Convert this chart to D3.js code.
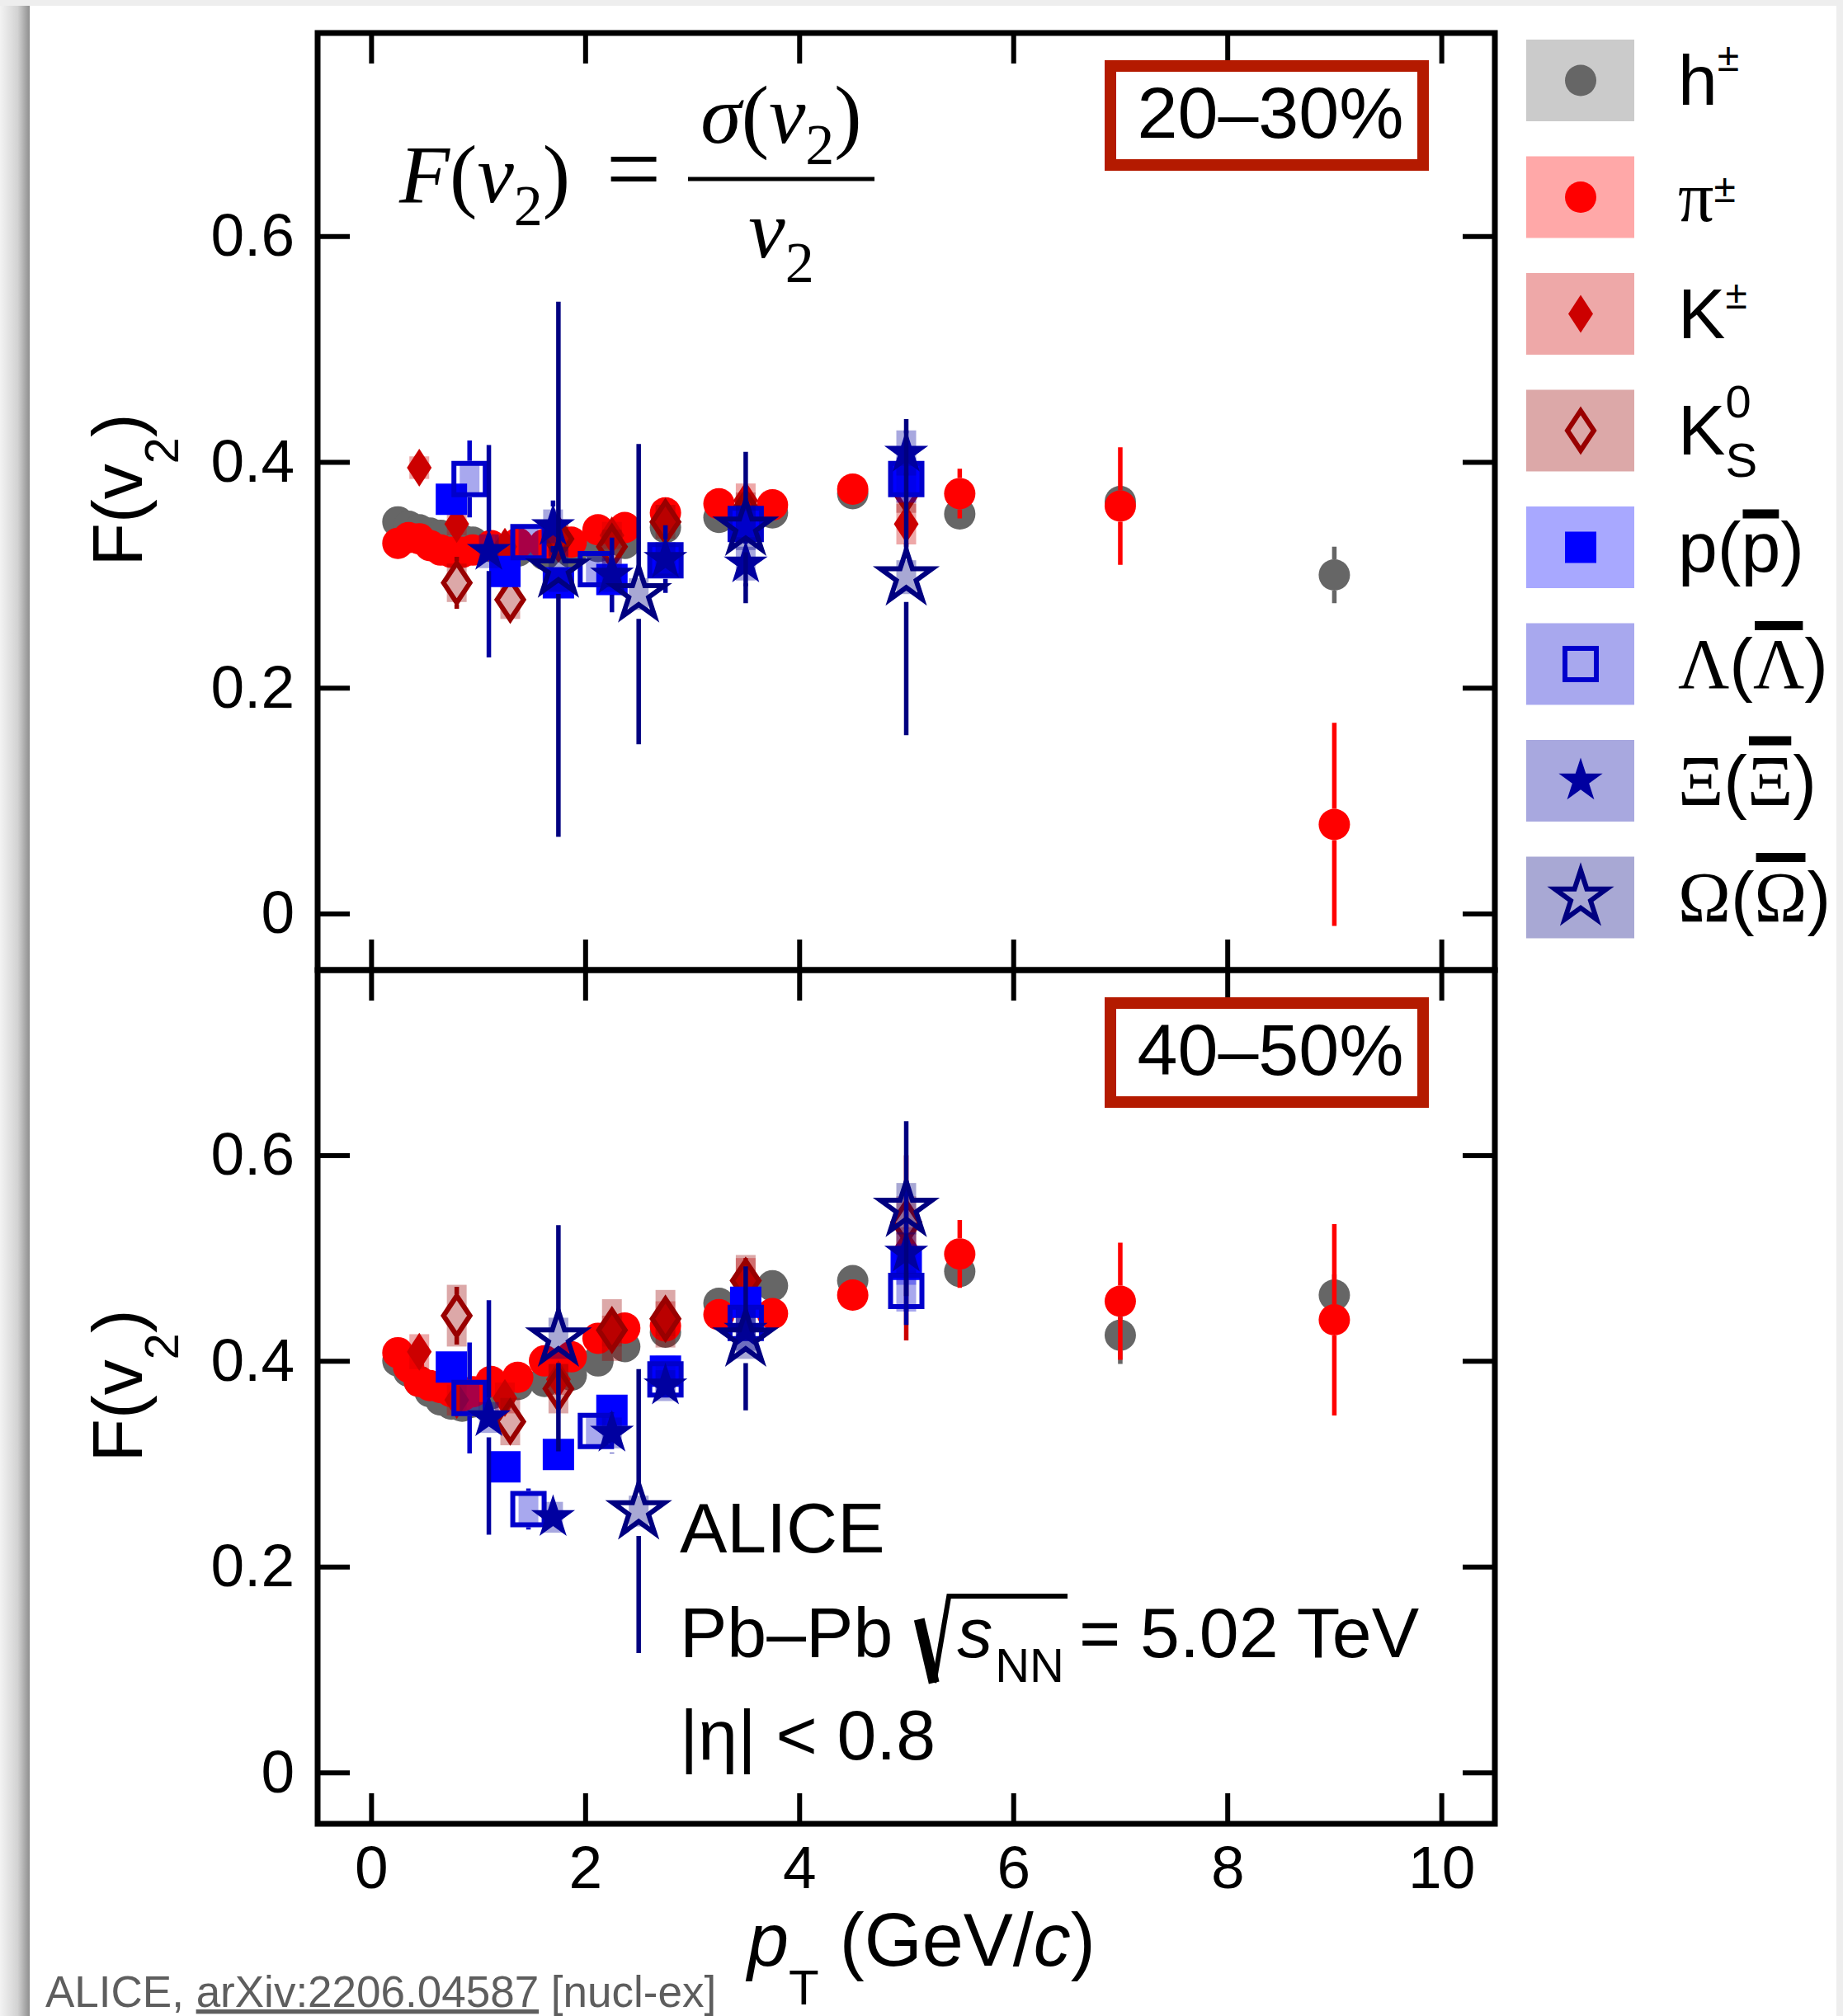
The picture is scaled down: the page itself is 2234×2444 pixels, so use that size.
<!DOCTYPE html>
<html>
<head>
<meta charset="utf-8">
<script src="https://cdn.jsdelivr.net/npm/d3@7"></script>
<style>
  body { margin: 0; background: #eeeeee; }
  svg { display: block; }
</style>
</head>
<body>
<svg id="chart" width="2234" height="2444"></svg>
<script>
var W = 2234, H = 2444;
var SANS = "'Liberation Sans', Arial, Helvetica, sans-serif";
var SERIF = "'Liberation Serif', 'Times New Roman', serif";

// tick values
var xTicks = [0, 2, 4, 6, 8, 10];
var yTicks = [0, 0.2, 0.4, 0.6];
var centralities = ['20–30%', '40–50%'];

// ---- data: F(v2) vs pT ----
// charged hadrons and pions share the same bins
var hPt  = [0.25, 0.35, 0.45, 0.55, 0.65, 0.75, 0.85, 0.95, 1.12, 1.37, 1.62, 1.87, 2.12, 2.37, 2.75, 3.25, 3.75, 4.5, 5.5, 7, 9];
var hTop    = [0.347, 0.343, 0.340, 0.337, 0.335, 0.333, 0.331, 0.329, 0.325, 0.321, 0.318, 0.320, 0.325, 0.328, 0.342, 0.351, 0.355, 0.372, 0.354, 0.365, 0.300];
var hTopErr = [0.003, 0.003, 0.003, 0.003, 0.003, 0.003, 0.003, 0.003, 0.003, 0.003, 0.003, 0.004, 0.004, 0.004, 0.005, 0.005, 0.006, 0.006, 0.008, 0.012, 0.025];
var hTopSys = [0.005, 0.005, 0.005, 0.005, 0.005, 0.005, 0.005, 0.005, 0.005, 0.005, 0.005, 0.005, 0.005, 0.005, 0.006, 0.006, 0.006, 0.007, 0.008, 0.01, 0.01];
var hBot    = [0.400, 0.390, 0.380, 0.370, 0.362, 0.358, 0.356, 0.360, 0.368, 0.377, 0.380, 0.386, 0.400, 0.414, 0.428, 0.456, 0.473, 0.478, 0.487, 0.425, 0.464];
var hBotErr = [0.003, 0.003, 0.003, 0.003, 0.003, 0.003, 0.003, 0.003, 0.003, 0.003, 0.003, 0.004, 0.004, 0.004, 0.005, 0.005, 0.006, 0.006, 0.008, 0.028, 0.02];
var hBotSys = [0.005, 0.005, 0.005, 0.005, 0.005, 0.005, 0.005, 0.005, 0.005, 0.005, 0.005, 0.005, 0.005, 0.005, 0.006, 0.006, 0.006, 0.007, 0.008, 0.01, 0.01];

var piPt = [0.25, 0.35, 0.45, 0.55, 0.65, 0.75, 0.85, 0.95, 1.12, 1.37, 1.62, 1.87, 2.12, 2.37, 2.75, 3.25, 3.75, 4.5, 5.5, 7, 9];
var piTop    = [0.328, 0.333, 0.332, 0.326, 0.322, 0.320, 0.320, 0.322, 0.326, 0.328, 0.327, 0.329, 0.340, 0.342, 0.355, 0.363, 0.362, 0.376, 0.372, 0.361, 0.079];
var piTopErr = [0.003, 0.003, 0.003, 0.003, 0.003, 0.003, 0.003, 0.003, 0.003, 0.003, 0.004, 0.004, 0.004, 0.005, 0.005, 0.006, 0.007, 0.008, 0.022, 0.052, 0.09];
var piTopSys = [0.005, 0.005, 0.005, 0.005, 0.005, 0.005, 0.005, 0.005, 0.005, 0.005, 0.005, 0.005, 0.006, 0.006, 0.006, 0.007, 0.007, 0.008, 0.01, 0.01, 0.01];
var piBot    = [0.408, 0.394, 0.380, 0.376, 0.374, 0.370, 0.366, 0.370, 0.380, 0.384, 0.400, 0.404, 0.422, 0.432, 0.434, 0.445, 0.446, 0.464, 0.504, 0.458, 0.440];
var piBotErr = [0.003, 0.003, 0.003, 0.003, 0.003, 0.003, 0.003, 0.003, 0.003, 0.003, 0.004, 0.004, 0.004, 0.005, 0.005, 0.006, 0.007, 0.008, 0.033, 0.057, 0.093];
var piBotSys = [0.005, 0.005, 0.005, 0.005, 0.005, 0.005, 0.005, 0.005, 0.005, 0.005, 0.005, 0.005, 0.006, 0.006, 0.006, 0.007, 0.007, 0.008, 0.01, 0.01, 0.01];

var kPt = [0.45, 0.8, 1.25, 1.75, 2.25, 2.75, 3.5, 5.0];
var kTop    = [0.395, 0.345, 0.325, 0.333, 0.335, 0.350, 0.366, 0.345];
var kTopErr = [0.005, 0.01, 0.01, 0.01, 0.01, 0.01, 0.015, 0.02];
var kTopSys = [0.010, 0.010, 0.010, 0.012, 0.012, 0.012, 0.015, 0.018];
var kBot    = [0.409, 0.362, 0.364, 0.382, 0.429, 0.441, 0.480, 0.510];
var kBotErr = [0.005, 0.01, 0.01, 0.01, 0.012, 0.012, 0.02, 0.09];
var kBotSys = [0.017, 0.015, 0.015, 0.015, 0.015, 0.017, 0.02, 0.02];

var k0Pt = [0.8, 1.3, 1.75, 2.25, 2.75, 3.5, 5.0];
var k0Top    = [0.293, 0.278, 0.332, 0.325, 0.347, 0.356, 0.375];
var k0TopErr = [0.023, 0.01, 0.01, 0.01, 0.01, 0.015, 0.02];
var k0TopSys = [0.017, 0.017, 0.015, 0.015, 0.015, 0.017, 0.02];
var k0Bot    = [0.444, 0.341, 0.373, 0.430, 0.441, 0.478, 0.535];
var k0BotErr = [0.028, 0.012, 0.01, 0.01, 0.01, 0.015, 0.02];
var k0BotSys = [0.030, 0.023, 0.024, 0.030, 0.028, 0.025, 0.025];

var pPt = [0.75, 1.25, 1.75, 2.25, 2.75, 3.5, 5.0];
var pTop    = [0.367, 0.303, 0.293, 0.296, 0.311, 0.344, 0.384];
var pTopErr = [0.01, 0.01, 0.01, 0.01, 0.01, 0.012, 0.015];
var pTopSys = [0.012, 0.012, 0.012, 0.012, 0.012, 0.015, 0.02];
var pBot    = [0.394, 0.297, 0.309, 0.352, 0.390, 0.457, 0.494];
var pBotErr = [0.01, 0.01, 0.01, 0.01, 0.01, 0.012, 0.015];
var pBotSys = [0.012, 0.012, 0.012, 0.012, 0.015, 0.015, 0.02];

var lamPt = [0.92, 1.47, 2.1, 2.75, 3.5, 5.0];
var lamTop    = [0.385, 0.329, 0.305, 0.313, 0.345, 0.385];
var lamTopErr = [0.034, 0.01, 0.01, 0.01, 0.01, 0.015];
var lamTopSys = [0.015, 0.012, 0.012, 0.012, 0.012, 0.015];
var lamBot    = [0.364, 0.256, 0.332, 0.382, 0.437, 0.468];
var lamBotErr = [0.054, 0.02, 0.01, 0.01, 0.01, 0.02];
var lamBotSys = [0.015, 0.015, 0.015, 0.015, 0.015, 0.02];

var xiPt = [1.1, 1.7, 2.25, 2.75, 3.5, 5.0];
var xiTop    = [0.321, 0.343, 0.300, 0.314, 0.310, 0.408];
var xiTopErr = [0.094, 0.023, 0.033, 0.03, 0.02, 0.02];
var xiTopSys = [0.015, 0.015, 0.015, 0.015, 0.015, 0.02];
var xiBot    = [0.345, 0.248, 0.330, 0.376, 0.430, 0.505];
var xiBotErr = [0.114, 0.015, 0.02, 0.015, 0.02, 0.07];
var xiBotSys = [0.015, 0.015, 0.015, 0.015, 0.02, 0.02];

var omPt = [1.75, 2.5, 3.5, 5.0];
var omTop    = [0.305, 0.283, 0.342, 0.298];
var omTopErr = [0.237, 0.133, 0.067, 0.14];
var omTopSys = [0.02, 0.014, 0.02, 0.015];
var omBot    = [0.422, 0.254, 0.422, 0.548];
var omBotErr = [0.11, 0.138, 0.07, 0.085];
var omBotSys = [0.02, 0.015, 0.02, 0.025];

// legend labels, one list of text pieces per species
var legendLabels = [
  [{t: 'h'}, {t: '±', size: 48, dy: -41}],
  [{t: 'π', serif: true}, {t: '±', size: 48, dy: -23}],
  [{t: 'K'}, {t: '±', size: 48, dy: -36}],
  [{t: 'K'}, {t: '0', size: 56, dy: -45, stack: true}, {t: 'S', size: 58, dy: 27}],
  [{t: 'p'}, {t: '('}, {t: 'p', bar: 64}, {t: ')'}],
  [{t: 'Λ', serif: true}, {t: '('}, {t: 'Λ', serif: true, bar: 70}, {t: ')'}],
  [{t: 'Ξ', serif: true}, {t: '('}, {t: 'Ξ', serif: true, bar: 72}, {t: ')'}],
  [{t: 'Ω', serif: true}, {t: '('}, {t: 'Ω', serif: true, bar: 72}, {t: ')'}]
];

var species = [
  {pt: hPt,  val: [hTop, hBot],   err: [hTopErr, hBotErr],   sys: [hTopSys, hBotSys],   color: '#666666', shape: 'circle',   gap: 19},
  {pt: piPt, val: [piTop, piBot], err: [piTopErr, piBotErr], sys: [piTopSys, piBotSys], color: '#ff0000', shape: 'circle',   gap: 19},
  {pt: kPt,  val: [kTop, kBot],   err: [kTopErr, kBotErr],   sys: [kTopSys, kBotSys],   color: '#cc0000', shape: 'diamond',  gap: 23},
  {pt: k0Pt, val: [k0Top, k0Bot], err: [k0TopErr, k0BotErr], sys: [k0TopSys, k0BotSys], color: '#990000', shape: 'odiamond', gap: 26},
  {pt: pPt,  val: [pTop, pBot],   err: [pTopErr, pBotErr],   sys: [pTopSys, pBotSys],   color: '#0000ff', shape: 'square',   gap: 19},
  {pt: lamPt, val: [lamTop, lamBot], err: [lamTopErr, lamBotErr], sys: [lamTopSys, lamBotSys], color: '#0000cc', shape: 'osquare', gap: 22},
  {pt: xiPt, val: [xiTop, xiBot], err: [xiTopErr, xiBotErr], sys: [xiTopSys, xiBotSys], color: '#0000a0', shape: 'star',     gap: 24},
  {pt: omPt, val: [omTop, omBot], err: [omTopErr, omBotErr], sys: [omTopSys, omBotSys], color: '#000080', shape: 'ostar',    gap: 30}
];

var svg = d3.select('#chart');

// page card with a soft shadow on the left
var defs = svg.append('defs');
var grad = defs.append('linearGradient').attr('id', 'shadowL')
    .attr('x1', 0).attr('x2', 1).attr('y1', 0).attr('y2', 0);
grad.append('stop').attr('offset', '0%').attr('stop-color', '#f3f3f3');
grad.append('stop').attr('offset', '60%').attr('stop-color', '#d2d2d2');
grad.append('stop').attr('offset', '100%').attr('stop-color', '#8e8e8e');
svg.append('rect').attr('width', W).attr('height', H).attr('fill', '#eeeeee');
svg.append('rect').attr('x', 0).attr('y', 7).attr('width', 36).attr('height', H).attr('fill', 'url(#shadowL)');
svg.append('rect').attr('x', 36).attr('y', 7).attr('width', 2190).attr('height', H).attr('fill', '#ffffff');

var x = d3.scaleLinear().domain([-0.5, 10.5]).range([385, 1812]);
var panels = [
  {y: d3.scaleLinear().domain([-0.05, 0.78]).range([1176, 40]), top: 40, bottom: 1176, labels: false},
  {y: d3.scaleLinear().domain([-0.05, 0.78]).range([2211, 1176]), top: 1176, bottom: 2211, labels: true}
];

var KA = 0.8908130915292852; // d3 star: outer radius = sqrt(size * KA)
function shapePath(s) {
  if (s === 'circle') return d3.symbol().type(d3.symbolCircle).size(Math.PI * 19 * 19)();
  if (s === 'square') return d3.symbol().type(d3.symbolSquare).size(38 * 38)();
  if (s === 'osquare') return d3.symbol().type(d3.symbolSquare).size(38 * 38)();
  if (s === 'diamond') return 'M0,-23L15,0L0,23L-15,0Z';
  if (s === 'odiamond') return 'M0,-24L16,0L0,24L-16,0Z';
  if (s === 'star') return d3.symbol().type(d3.symbolStar).size(28 * 28 / KA)();
  if (s === 'ostar') return d3.symbol().type(d3.symbolStar).size(33 * 33 / KA)();
}
function styleMarker(sel, sp) {
  var open = sp.shape.charAt(0) === 'o';
  sel.attr('d', shapePath(sp.shape))
    .attr('fill', open ? 'none' : sp.color)
    .attr('stroke', open ? sp.color : 'none')
    .attr('stroke-width', 6)
    .attr('stroke-linejoin', 'miter')
    .attr('stroke-miterlimit', 10);
}

// data, one layer per species: systematic boxes, stat bars, markers
panels.forEach(function (p, pi) {
  species.forEach(function (sp) {
    var pts = sp.pt.map(function (v, i) {
      return {pt: v, v: sp.val[pi][i], e: sp.err[pi][i], s: sp.sys[pi][i]};
    });
    var g = svg.append('g');
    g.selectAll('rect.sys').data(pts).enter().append('rect')
      .attr('x', function (d) { return x(d.pt) - 12; })
      .attr('y', function (d) { return p.y(d.v + d.s); })
      .attr('width', 24)
      .attr('height', function (d) { return p.y(d.v - d.s) - p.y(d.v + d.s); })
      .attr('fill', sp.color).attr('fill-opacity', 0.34);
    g.selectAll('path.err').data(pts).enter().append('path')
      .attr('d', function (d) {
        var cx = x(d.pt), cy = p.y(d.v), hi = p.y(d.v + d.e), lo = p.y(d.v - d.e), s = '';
        if (cy - hi > sp.gap) s += 'M' + cx + ',' + (cy - sp.gap) + 'V' + hi;
        if (lo - cy > sp.gap) s += 'M' + cx + ',' + (cy + sp.gap) + 'V' + lo;
        return s || null;
      })
      .attr('stroke', sp.color).attr('stroke-width', 5.5).attr('fill', 'none');
    g.selectAll('path.mk').data(pts).enter().append('path')
      .attr('transform', function (d) { return 'translate(' + x(d.pt) + ',' + p.y(d.v) + ')'; })
      .call(styleMarker, sp);
  });
});

// axes and frame
var fmtY = function (d) { return d === 0 ? '0' : d3.format('.1f')(d); };
panels.forEach(function (p) {
  var g = svg.append('g');
  g.append('g').attr('transform', 'translate(385,0)')
    .call(d3.axisLeft(p.y).tickValues(yTicks).tickSize(-39).tickPadding(28).tickFormat(fmtY));
  g.append('g').attr('transform', 'translate(1812,0)')
    .call(d3.axisRight(p.y).tickValues(yTicks).tickSize(-39).tickFormat(''));
  g.append('g').attr('transform', 'translate(0,' + p.top + ')')
    .call(d3.axisTop(x).tickValues(xTicks).tickSize(-37).tickFormat(''));
  g.append('g').attr('transform', 'translate(0,' + p.bottom + ')')
    .call(d3.axisBottom(x).tickValues(xTicks).tickSize(-37).tickPadding(26)
      .tickFormat(p.labels ? d3.format('d') : ''));
  g.selectAll('.domain').remove();
  g.selectAll('.tick line').attr('stroke', '#000').attr('stroke-width', 6);
  g.selectAll('.tick text').attr('font-family', SANS).attr('font-size', 73).attr('fill', '#000');
  svg.append('rect').attr('x', 385).attr('y', p.top).attr('width', 1812 - 385)
    .attr('height', p.bottom - p.top).attr('fill', 'none').attr('stroke', '#000').attr('stroke-width', 7);
});

// centrality boxes
panels.forEach(function (p, i) {
  svg.append('rect').attr('x', 1346).attr('y', p.top + 40).attr('width', 379).attr('height', 120)
    .attr('fill', '#fff').attr('stroke', '#b41a00').attr('stroke-width', 14);
  svg.append('text').attr('x', 1540).attr('y', p.top + 127).attr('text-anchor', 'middle')
    .attr('font-family', SANS).attr('font-size', 88).text(centralities[i]);
});

// y titles
[594, 1680].forEach(function (cy) {
  var t = svg.append('text').attr('transform', 'translate(172,' + cy + ') rotate(-90)')
    .attr('text-anchor', 'middle').attr('font-family', SANS).attr('font-size', 86);
  t.append('tspan').text('F(v');
  t.append('tspan').attr('font-size', 58).attr('dy', 44).text('2');
  t.append('tspan').attr('dy', -44).text(')');
});

// x title
var xt = svg.append('text').attr('x', 906).attr('y', 2383).attr('font-family', SANS).attr('font-size', 90);
xt.append('tspan').attr('font-style', 'italic').text('p');
xt.append('tspan').attr('font-size', 60).attr('dy', 47).text('T');
xt.append('tspan').attr('dy', -47).text(' (GeV/');
xt.append('tspan').attr('font-style', 'italic').text('c');
xt.append('tspan').text(')');

// formula F(v2) = sigma(v2)/v2
var fg = svg.append('g').attr('font-family', SERIF).attr('font-size', 100).attr('fill', '#000');
var f1 = fg.append('text').attr('x', 484).attr('y', 245);
f1.append('tspan').attr('font-style', 'italic').text('F');
f1.append('tspan').text('(');
f1.append('tspan').attr('font-style', 'italic').text('v');
f1.append('tspan').attr('font-size', 70).attr('dy', 28).text('2');
f1.append('tspan').attr('dy', -28).text(')');
fg.append('text').attr('x', 768).attr('y', 245).attr('text-anchor', 'middle').attr('font-size', 118).text('=');
fg.append('line').attr('x1', 834).attr('x2', 1060).attr('y1', 217).attr('y2', 217)
  .attr('stroke', '#000').attr('stroke-width', 5);
var f2 = fg.append('text').attr('x', 947).attr('y', 173).attr('text-anchor', 'middle');
f2.append('tspan').attr('font-style', 'italic').text('σ');
f2.append('tspan').text('(');
f2.append('tspan').attr('font-style', 'italic').text('v');
f2.append('tspan').attr('font-size', 70).attr('dy', 26).text('2');
f2.append('tspan').attr('dy', -26).text(')');
var f3 = fg.append('text').attr('x', 947).attr('y', 312).attr('text-anchor', 'middle');
f3.append('tspan').attr('font-style', 'italic').text('v');
f3.append('tspan').attr('font-size', 70).attr('dy', 30).text('2');

// ALICE label block
var info = svg.append('g').attr('font-family', SANS).attr('font-size', 86).attr('fill', '#000');
info.append('text').attr('x', 824).attr('y', 1882).text('ALICE');
var pb = info.append('text').attr('x', 824).attr('y', 2009).text('Pb–Pb');
var rx = 824 + pb.node().getComputedTextLength() + 26;
var sx = rx + 52;
var sT = info.append('text').attr('x', sx).attr('y', 2009).attr('font-style', 'italic').text('s');
var nx = sx + sT.node().getComputedTextLength() + 3;
var nn = info.append('text').attr('x', nx).attr('y', 2039).attr('font-size', 58).text('NN');
var nEnd = nx + nn.node().getComputedTextLength();
info.append('text').attr('x', nEnd + 18).attr('y', 2009).text('= 5.02 TeV');
info.append('path').attr('d', 'M' + (rx + 6) + ',1963L' + (rx + 24) + ',2040')
  .attr('stroke', '#000').attr('stroke-width', 13).attr('fill', 'none');
info.append('path').attr('d', 'M' + (rx + 24) + ',2040L' + (rx + 42) + ',1935H' + (nEnd + 4))
  .attr('stroke', '#000').attr('stroke-width', 6).attr('fill', 'none');
info.append('text').attr('x', 824).attr('y', 2133).text('|η| < 0.8');

// footnote
var fn = svg.append('text').attr('x', 55).attr('y', 2433).attr('font-family', SANS)
  .attr('font-size', 53).attr('fill', '#5e5e5e');
fn.append('tspan').text('ALICE, ');
fn.append('tspan').attr('text-decoration', 'underline').text('arXiv:2206.04587');
fn.append('tspan').text(' [nucl-ex]');

// legend
var lg = svg.append('g');
species.forEach(function (sp, i) {
  var top = 48 + i * 141.5, cy = top + 49.5, base = cy + 29;
  lg.append('rect').attr('x', 1850).attr('y', top).attr('width', 131).attr('height', 99)
    .attr('fill', sp.color).attr('fill-opacity', 0.34);
  lg.append('path').attr('transform', 'translate(1916,' + cy + ')').call(styleMarker, sp);
  var cx = 2034, stackX = null;
  legendLabels[i].forEach(function (pc) {
    var px = stackX !== null ? stackX : cx;
    var t = lg.append('text').attr('x', px).attr('y', base + (pc.dy || 0))
      .attr('font-family', pc.serif ? SERIF : SANS).attr('font-size', pc.size || 86).text(pc.t);
    var w = t.node().getComputedTextLength();
    if (pc.bar) {
      lg.append('rect').attr('x', px + 2).attr('y', base - pc.bar - 11).attr('width', w - 4).attr('height', 11);
    }
    if (pc.stack) { stackX = px; cx = px + w; }
    else { cx = Math.max(cx, px + w); stackX = null; }
  });
});
</script>
</body>
</html>
